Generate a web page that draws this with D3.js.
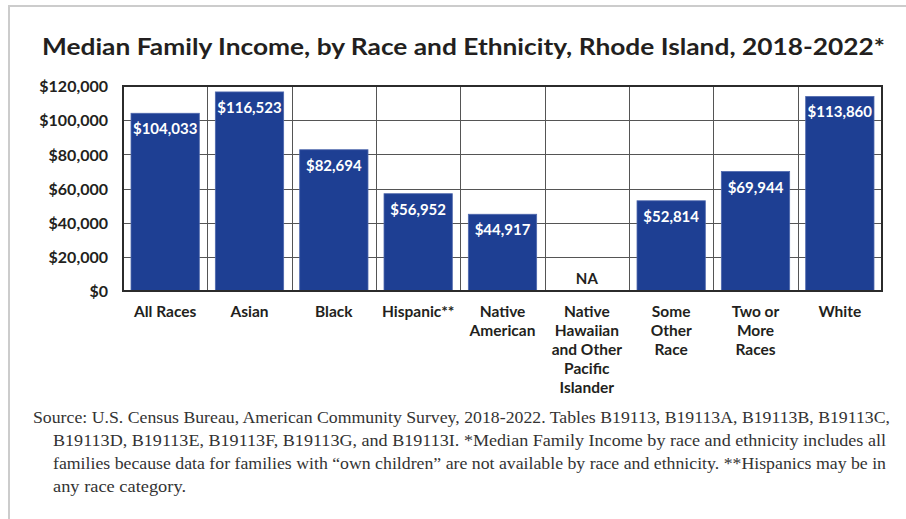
<!DOCTYPE html>
<html>
<head>
<meta charset="utf-8">
<script src="https://cdn.jsdelivr.net/npm/d3@7"></script>
<style>
  html, body { margin: 0; padding: 0; background: #fff; }
  svg { display: block; }
</style>
</head>
<body>
<svg id="chart" width="906" height="519"></svg>
<script>
// Median family income by race and ethnicity, Rhode Island, 2018-2022
const categories = [
  "All Races", "Asian", "Black", "Hispanic**", "Native American",
  "Native Hawaiian and Other Pacific Islander", "Some Other Race",
  "Two or More Races", "White"
];
const categoryLines = [
  ["All Races"], ["Asian"], ["Black"], ["Hispanic**"], ["Native", "American"],
  ["Native", "Hawaiian", "and Other", "Pacific", "Islander"],
  ["Some", "Other", "Race"], ["Two or", "More", "Races"], ["White"]
];
const incomes = [104033, 116523, 82694, 56952, 44917, null, 52814, 69944, 113860];
const yTicks = [0, 20000, 40000, 60000, 80000, 100000, 120000];
const titleText = "Median Family Income, by Race and Ethnicity, Rhode Island, 2018-2022*";
const sourceLines = [
  "Source: U.S. Census Bureau, American Community Survey, 2018-2022. Tables B19113, B19113A, B19113B, B19113C,",
  "B19113D, B19113E, B19113F, B19113G, and B19113I. *Median Family Income by race and ethnicity includes all",
  "families because data for families with \u201cown children\u201d are not available by race and ethnicity. **Hispanics may be in",
  "any race category."
];

const svg = d3.select("#chart");
const sans = "Lato, 'Open Sans', sans-serif";
const serif = "'Liberation Serif', 'DejaVu Serif', serif";
const ink = "#231f20";
const barColor = "#1e3f93";

// page frame
svg.append("path")
  .attr("d", "M9,519 V6 H906")
  .attr("fill", "none")
  .attr("stroke", "#cccccc")
  .attr("stroke-width", 2);

// title
svg.append("text")
  .attr("x", 42).attr("y", 55)
  .attr("font-family", sans).attr("font-weight", 700)
  .attr("font-size", 23.5).attr("fill", ink)
  .attr("textLength", 843).attr("lengthAdjust", "spacingAndGlyphs")
  .text(titleText);

const plot = { left: 123, right: 882, top: 86, bottom: 291 };

const x = d3.scaleBand()
  .domain(categories)
  .range([plot.left, plot.right])
  .paddingInner(0.19)
  .paddingOuter(0.095);

const y = d3.scaleLinear()
  .domain([0, 120000])
  .range([plot.bottom, plot.top]);

const step = x.step();

// horizontal gridlines
svg.append("g").selectAll("line")
  .data(yTicks)
  .join("line")
  .attr("x1", plot.left).attr("x2", plot.right)
  .attr("y1", d => Math.round(y(d)) + 0.5).attr("y2", d => Math.round(y(d)) + 0.5)
  .attr("stroke", "#555").attr("stroke-width", 1);

// vertical separators between categories
svg.append("g").selectAll("line")
  .data(categories)
  .join("line")
  .attr("x1", d => Math.round(x(d) - step * x.paddingInner() / 2) + 0.5)
  .attr("x2", d => Math.round(x(d) - step * x.paddingInner() / 2) + 0.5)
  .attr("y1", plot.top).attr("y2", plot.bottom)
  .attr("stroke", "#555").attr("stroke-width", 1);

// y-axis labels
const yAxis = d3.axisLeft(y)
  .tickValues(yTicks)
  .tickSize(0)
  .tickPadding(15)
  .tickFormat(d => "$" + d3.format(",")(d));
const gy = svg.append("g")
  .attr("transform", `translate(${plot.left},0)`)
  .call(yAxis);
gy.select(".domain").remove();
gy.selectAll("text")
  .attr("font-family", sans).attr("font-weight", 700)
  .attr("font-size", 16).attr("fill", ink)
  .attr("dy", "0.36em");

// bars
const rows = categories.map((c, i) => ({ cat: c, value: incomes[i], lines: categoryLines[i] }));

svg.append("g").selectAll("rect")
  .data(rows.filter(d => d.value !== null))
  .join("rect")
  .attr("x", d => x(d.cat))
  .attr("y", d => y(d.value))
  .attr("width", x.bandwidth())
  .attr("height", d => y(0) - y(d.value))
  .attr("fill", barColor)
  .attr("stroke", "#4f68ad").attr("stroke-width", 0.8);

// value labels inside bar tops
svg.append("g").selectAll("text")
  .data(rows.filter(d => d.value !== null))
  .join("text")
  .attr("x", d => x(d.cat) + x.bandwidth() / 2)
  .attr("y", d => y(d.value) + 21)
  .attr("text-anchor", "middle")
  .attr("font-family", sans).attr("font-weight", 700)
  .attr("font-size", 15).attr("fill", "#ffffff")
  .text(d => "$" + d3.format(",")(d.value));

// missing value marker
svg.append("g").selectAll("text")
  .data(rows.filter(d => d.value === null))
  .join("text")
  .attr("x", d => x(d.cat) + x.bandwidth() / 2)
  .attr("y", y(0) - 7)
  .attr("text-anchor", "middle")
  .attr("font-family", sans).attr("font-weight", 700)
  .attr("font-size", 15).attr("fill", ink)
  .text("NA");

// plot border
svg.append("rect")
  .attr("x", plot.left).attr("y", plot.top)
  .attr("width", plot.right - plot.left).attr("height", plot.bottom - plot.top)
  .attr("fill", "none").attr("stroke", "#2b2b2b").attr("stroke-width", 2);

// category labels
const xl = svg.append("g").selectAll("text")
  .data(rows)
  .join("text")
  .attr("x", d => x(d.cat) + x.bandwidth() / 2)
  .attr("y", 317)
  .attr("text-anchor", "middle")
  .attr("font-family", sans).attr("font-weight", 700)
  .attr("font-size", 15.5).attr("fill", ink);
xl.selectAll("tspan")
  .data(d => d.lines.map((l, i) => ({ l, i, cx: x(d.cat) + x.bandwidth() / 2 })))
  .join("tspan")
  .attr("x", d => d.cx)
  .attr("y", d => 317 + d.i * 19)
  .text(d => d.l);

// source note, each line set to its justified width
const lineStarts = [33, 53, 53, 53];
const lineEnds = [890, 886, 886, 186];
svg.append("g").selectAll("text")
  .data(sourceLines)
  .join("text")
  .attr("x", (d, i) => lineStarts[i])
  .attr("y", (d, i) => 423 + i * 23)
  .attr("font-family", serif)
  .attr("font-size", 17.5).attr("fill", "#333")
  .attr("textLength", (d, i) => lineEnds[i] - lineStarts[i])
  .attr("lengthAdjust", "spacingAndGlyphs")
  .text(d => d);
</script>
</body>
</html>
